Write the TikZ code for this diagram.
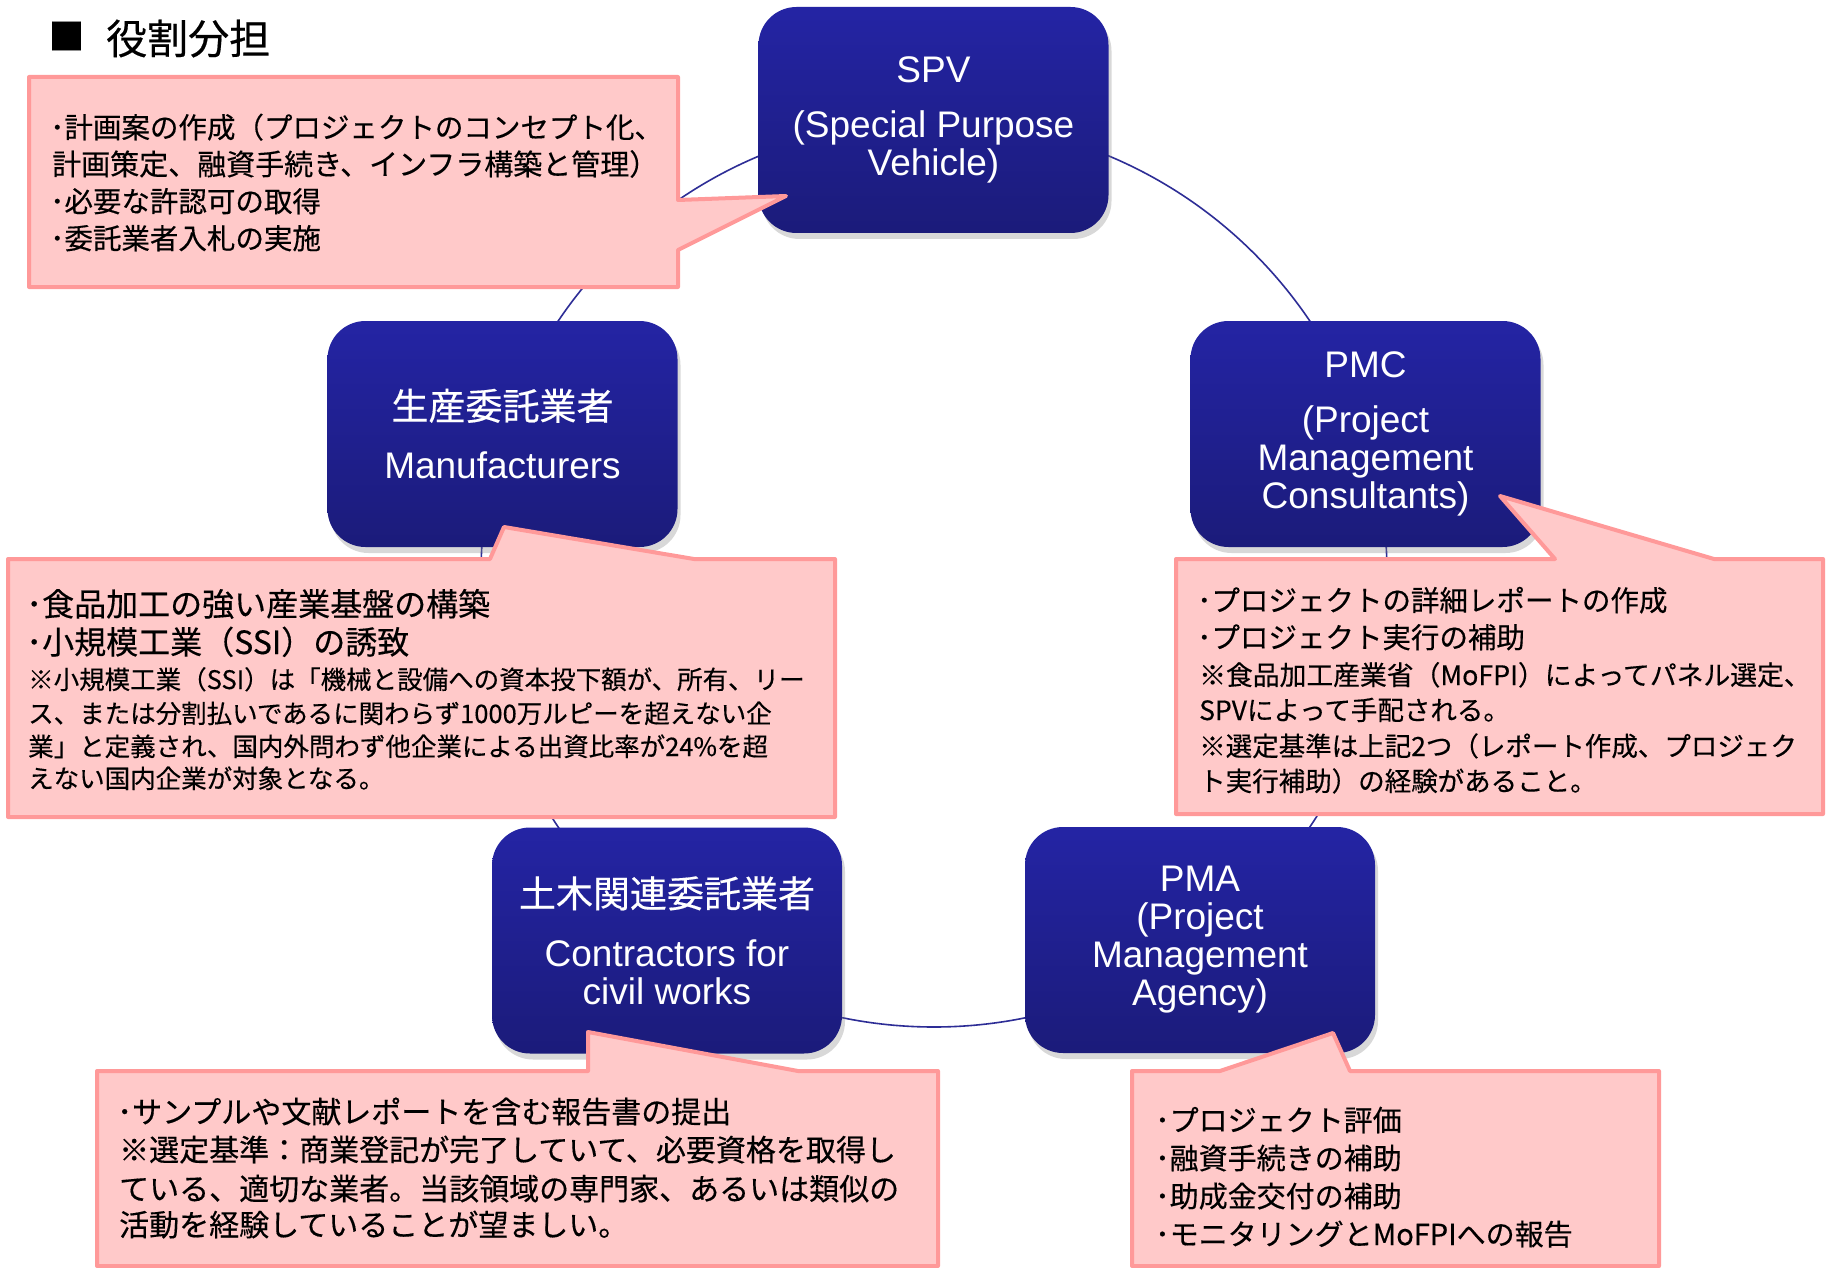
\documentclass[tikz,border=0pt]{standalone}
\usepackage{fontspec}
\setmainfont{Liberation Sans}
\newfontfamily\jp[FakeBold=0.4]{Noto Sans CJK JP}
\usetikzlibrary{shadows}
\definecolor{boxtop}{RGB}{36,36,164}
\definecolor{boxbot}{RGB}{27,27,122}
\definecolor{callfill}{RGB}{255,201,201}
\definecolor{calldraw}{RGB}{255,153,153}
\definecolor{ringcol}{RGB}{45,45,150}
\begin{document}
\begin{tikzpicture}[x=1pt,y=-1pt,
  stage/.style={draw=none, rounded corners=38pt, minimum width=350pt, minimum height=226pt,
    top color=boxtop, bottom color=boxbot, text=white, align=center,
    font=\fontsize{37}{38}\selectfont, inner sep=0pt,
    drop shadow={opacity=0.3, shadow xshift=3pt, shadow yshift=-6pt}},
  callout/.style={draw=calldraw, fill=callfill, line width=4pt, line join=round},
  jt/.style={anchor=base west, inner sep=0pt, font=\jp\fontsize{#1}{#1}\selectfont},
  ring/.style={draw=ringcol, line width=1.6pt}]
\useasboundingbox (0,0) rectangle (1826,1268);
\fill[white] (0,0) rectangle (1826,1268);
% title
\node[inner sep=0pt, font=\jp\fontsize{36}{36}\selectfont] (tmark) at (66.5,36) {■};
\node[anchor=base west, inner sep=0pt, font=\jp\fontsize{41}{41}\selectfont] (title) at (106,54) {役割分担};
% ring
\coordinate (ringc) at (934,574);
\draw[ring] (ringc) circle[radius=453pt];
% stages
\node[stage] (spv) at (933.5,120) {SPV\\[17pt](Special Purpose\\Vehicle)};
\node[stage] (pmc) at (1365.5,434) {PMC\\[17pt](Project\\Management\\Consultants)};
\node[stage] (pma) at (1200,940) {PMA\\(Project\\Management\\Agency)};
\node[stage] (civ) at (667,940.5) {{\jp 土木関連委託業者}\\[21pt]Contractors for\\civil works};
\node[stage] (man) at (502.5,434) {{\jp 生産委託業者}\\[21pt]Manufacturers};
% callout SPV
\draw[callout] (29,77) -- (678,77) -- (678,200) -- (786,196) -- (678,250) -- (678,287) -- (29,287) -- cycle;
\node[jt=28.5] (a1) at (50,138) {･計画案の作成（プロジェクトのコンセプト化、};
\node[jt=29] (a2) at (52,175) {計画策定、融資手続き、インフラ構築と管理）};
\node[jt=28.5] (a3) at (50,212) {･必要な許認可の取得};
\node[jt=28.5] (a4) at (50,249) {･委託業者入札の実施};
% callout Manufacturers
\draw[callout] (8,559) -- (490,559) -- (504,527) -- (694,559) -- (835,559) -- (835,817) -- (8,817) -- cycle;
\node[jt=32] (b1) at (26,616) {･食品加工の強い産業基盤の構築};
\node[jt=32] (b2) at (26,654) {･小規模工業（SSI）の誘致};
\node[jt=25.5] (b3) at (28,689) {※小規模工業（SSI）は「機械と設備への資本投下額が、所有、リー};
\node[jt=25.5] (b4) at (28,723) {ス、または分割払いであるに関わらず1000万ルピーを超えない企};
\node[jt=25.5] (b5) at (28,756) {業」と定義され、国内外問わず他企業による出資比率が24\%を超};
\node[jt=25.5] (b6) at (28,788) {えない国内企業が対象となる。};
% callout PMC
\draw[callout] (1176,559) -- (1555,559) -- (1500,496) -- (1714,559) -- (1823,559) -- (1823,814) -- (1176,814) -- cycle;
\node[jt=28.5] (c1) at (1197,611) {･プロジェクトの詳細レポートの作成};
\node[jt=28.5] (c2) at (1197,648) {･プロジェクト実行の補助};
\node[jt=26.8] (c3) at (1199,685) {※食品加工産業省（MoFPI）によってパネル選定、};
\node[jt=26.5] (c4) at (1199,720) {SPVによって手配される。};
\node[jt=26.5] (c5) at (1199,756) {※選定基準は上記2つ（レポート作成、プロジェク};
\node[jt=26.5] (c6) at (1199,791) {ト実行補助）の経験があること。};
% callout Contractors
\draw[callout] (97,1071) -- (588,1071) -- (588,1032) -- (798,1071) -- (938,1071) -- (938,1266) -- (97,1266) -- cycle;
\node[jt=30] (d1) at (117,1123) {･サンプルや文献レポートを含む報告書の提出};
\node[jt=30] (d2) at (119,1161) {※選定基準：商業登記が完了していて、必要資格を取得し};
\node[jt=30] (d3) at (119,1200) {ている、適切な業者。当該領域の専門家、あるいは類似の};
\node[jt=30] (d4) at (119,1236) {活動を経験していることが望ましい。};
% callout PMA
\draw[callout] (1132,1071) -- (1220,1071) -- (1333,1033) -- (1350,1071) -- (1659,1071) -- (1659,1266) -- (1132,1266) -- cycle;
\node[jt=29] (e1) at (1155,1131) {･プロジェクト評価};
\node[jt=29] (e2) at (1155,1169) {･融資手続きの補助};
\node[jt=29] (e3) at (1155,1207) {･助成金交付の補助};
\node[jt=29] (e4) at (1155,1245) {･モニタリングとMoFPIへの報告};
\end{tikzpicture}
\end{document}
